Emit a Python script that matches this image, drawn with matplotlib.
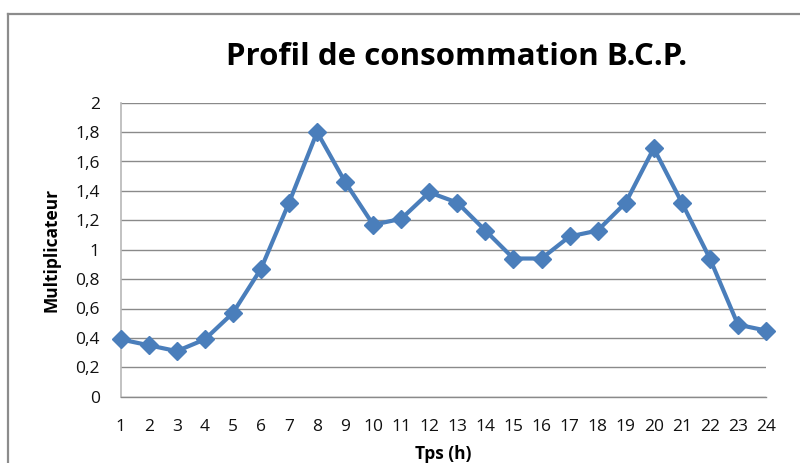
import matplotlib
matplotlib.use("Agg")
import matplotlib.pyplot as plt
from matplotlib.lines import Line2D

# Hourly consumption profile (multiplier per hour)
hours = list(range(1, 25))
hour_labels = [str(h) for h in hours]
multiplier = [0.39, 0.35, 0.31, 0.39, 0.57, 0.87, 1.32, 1.80, 1.46, 1.17, 1.21, 1.39,
              1.32, 1.13, 0.94, 0.94, 1.09, 1.13, 1.32, 1.69, 1.32, 0.94, 0.49, 0.45]
y_ticks = [0, 0.2, 0.4, 0.6, 0.8, 1.0, 1.2, 1.4, 1.6, 1.8, 2.0]
y_tick_labels = ["0", "0,2", "0,4", "0,6", "0,8", "1", "1,2", "1,4", "1,6", "1,8", "2"]

plt.rcParams['font.family'] = ['Open Sans', 'DejaVu Sans']

W, H = 800, 463
fig = plt.figure(figsize=(W / 100, H / 100), dpi=100)
fig.patch.set_facecolor("white")

# Chart frame (top and left edges)
fx0 = 7.5 / W
fy1 = 1 - 13.5 / H
fig.add_artist(Line2D([fx0, 1.0], [fy1, fy1], color="#8c8c8c", lw=1.6,
                      transform=fig.transFigure))
fig.add_artist(Line2D([fx0, fx0], [0.0, fy1], color="#8c8c8c", lw=1.6,
                      transform=fig.transFigure))

left, right = 120.7 / W, 766 / W
bottom, top = 1 - 396.7 / H, 1 - 102.7 / H
ax = fig.add_axes([left, bottom, right - left, top - bottom])

ax.plot(hours, multiplier, color="#4a7ebb", lw=3.0, marker="D", markersize=9.5,
        markerfacecolor="#4a7ebb", markeredgecolor="#4a7ebb", clip_on=False, zorder=3)

ax.set_xlim(1, 24)
ax.set_ylim(0, 2)
ax.set_xticks(hours)
ax.set_xticklabels(hour_labels)
ax.set_yticks(y_ticks)
ax.set_yticklabels(y_tick_labels)

ax.grid(axis="y", color="#8a8a8a", lw=1.0)
ax.set_axisbelow(True)
for s in ("top", "right"):
    ax.spines[s].set_visible(False)
ax.spines["left"].set_color("#b8b8b8")
ax.spines["left"].set_linewidth(1.2)
ax.spines["bottom"].set_color("#8a8a8a")
ax.spines["bottom"].set_linewidth(1.0)

ax.tick_params(axis="both", length=0, labelsize=12.5, colors="#111111")
ax.tick_params(axis="x", pad=16)
ax.tick_params(axis="y", pad=15)

ax.set_ylabel("Multiplicateur", fontsize=12.5, fontweight="bold", labelpad=11)
ax.set_xlabel("Tps (h)", fontsize=12.5, fontweight="bold", labelpad=7)

fig.text(457 / W, 1 - 57 / H, "Profil de consommation B.C.P.", fontsize=22.5,
         fontweight="bold", ha="center", va="center", color="#000000")

fig.savefig("out.png", dpi=100)
